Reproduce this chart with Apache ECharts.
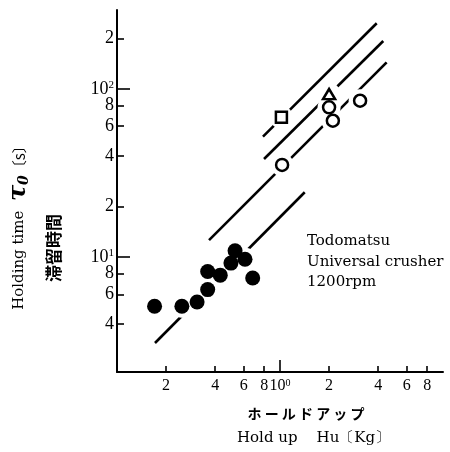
<!DOCTYPE html>
<html>
<head>
<meta charset="utf-8">
<script src="https://cdn.jsdelivr.net/npm/echarts@6/dist/echarts.min.js"></script>
<style>
  html, body { margin: 0; padding: 0; background: #fff; }
  #main { width: 450px; height: 452px; }
</style>
</head>
<body>
<div id="main"></div>
<script>
// 粉砕機データ（両対数）
const filledPts = [[0.17, 5.1], [0.25, 5.1], [0.31, 5.4], [0.36, 6.4], [0.36, 8.2],
  [0.43, 7.8], [0.53, 10.9], [0.50, 9.2], [0.61, 9.7], [0.68, 7.5]];
const circlePts = [[1.03, 35.3], [2.0, 77.8], [2.11, 64.7], [3.1, 85.1]];
const squarePts = [[1.02, 67.8]];
const trianglePts = [[2.0, 93.3]];

// 直線（端点）
const lineA = [[0.786, 52.0], [3.92, 246]];
const lineB = [[0.798, 38.3], [4.30, 193]];
const lineC = [[0.367, 12.6], [4.51, 144]];
const lineD = [[0.171, 3.08], [1.418, 24.3]];

// 目盛
const xMinorTicks = [0.2, 0.4, 0.6, 0.8, 2, 4, 6, 8];
const xLabels = [0.2, 0.4, 0.6, 0.8, 1, 2, 4, 6, 8];
const xMajorTicks = [1];
const yMinorTicks = [4, 6, 8, 20, 40, 60, 80, 200];
const yLabels = [4, 6, 8, 10, 20, 40, 60, 80, 100, 200];
const yMajorTicks = [10, 100];

const serif = '"Liberation Serif", "DejaVu Serif", serif';

function tickText(v) {
  const e = Math.floor(Math.log10(v) + 1e-9);
  const m = Math.round(v / Math.pow(10, e));
  if (m === 1) return '{b|10}{s|' + e + '}';
  return String(m);
}

let chart = echarts.init(document.getElementById('main'));

function lineSeries(d) {
  return {
    type: 'line', data: d, showSymbol: false, symbol: 'none', z: 2, silent: true,
    lineStyle: { color: '#000', width: 2.6 }
  };
}

chart.setOption({
  animation: false,
  grid: { left: 117, top: 10, width: 326, height: 362 },
  xAxis: [
    {
      type: 'log', logBase: 10, min: 0.1, max: 10,
      axisLine: { lineStyle: { color: '#000', width: 2 } },
      axisTick: { inside: true, length: 6, customValues: xMinorTicks, lineStyle: { color: '#000', width: 1.6 } },
      axisLabel: {
        customValues: xLabels, formatter: tickText, margin: 6,
        color: '#000', fontFamily: serif, fontSize: 16,
        rich: {
          b: { fontFamily: serif, fontSize: 16, color: '#000' },
          s: { fontFamily: serif, fontSize: 10, color: '#000', verticalAlign: 'top' }
        }
      },
      splitLine: { show: false }
    },
    {
      type: 'log', logBase: 10, min: 0.1, max: 10, position: 'bottom',
      axisLine: { show: false },
      axisTick: { inside: true, length: 12, customValues: xMajorTicks, lineStyle: { color: '#000', width: 1.6 } },
      axisLabel: { show: false },
      splitLine: { show: false }
    }
  ],
  yAxis: [
    {
      type: 'log', logBase: 10, min: 2.07, max: 295,
      axisLine: { lineStyle: { color: '#000', width: 2 } },
      axisTick: { inside: true, length: 7, customValues: yMinorTicks, lineStyle: { color: '#000', width: 1.6 } },
      axisLabel: {
        customValues: yLabels, formatter: tickText, margin: 3,
        color: '#000', fontFamily: serif, fontSize: 18,
        rich: {
          b: { fontFamily: serif, fontSize: 18, color: '#000' },
          s: { fontFamily: serif, fontSize: 11, color: '#000', verticalAlign: 'top' }
        }
      },
      splitLine: { show: false }
    },
    {
      type: 'log', logBase: 10, min: 2.07, max: 295, position: 'left',
      axisLine: { show: false },
      axisTick: { inside: true, length: 13, customValues: yMajorTicks, lineStyle: { color: '#000', width: 1.6 } },
      axisLabel: { show: false },
      splitLine: { show: false }
    }
  ],
  series: [
    lineSeries(lineA),
    lineSeries(lineB),
    lineSeries(lineC),
    lineSeries(lineD),
    // 白い縁取り（線の切れ目）
    {
      type: 'scatter', data: filledPts, symbol: 'circle', symbolSize: 23, z: 3, silent: true,
      itemStyle: { color: '#fff', opacity: 1 }
    },
    {
      type: 'scatter', data: circlePts.concat(squarePts, trianglePts), symbol: 'circle', symbolSize: 23, z: 3, silent: true,
      itemStyle: { color: '#fff', opacity: 1 }
    },
    {
      type: 'scatter', data: filledPts, symbol: 'circle', symbolSize: 15, z: 4,
      itemStyle: { color: '#000', opacity: 1 }
    },
    {
      type: 'scatter', data: circlePts, symbol: 'circle', symbolSize: 12, z: 4,
      itemStyle: { color: '#fff', borderColor: '#000', borderWidth: 2.5, opacity: 1 }
    },
    {
      type: 'scatter', data: squarePts, symbol: 'rect', symbolSize: 11, z: 4,
      itemStyle: { color: '#fff', borderColor: '#000', borderWidth: 2.5, opacity: 1 }
    },
    {
      type: 'scatter', data: trianglePts, symbol: 'triangle', symbolSize: [12, 10], z: 4,
      itemStyle: { color: '#fff', borderColor: '#000', borderWidth: 2.5, opacity: 1 }
    }
  ],
  graphic: [
    {
      type: 'text', x: 19, y: 224, rotation: Math.PI / 2,
      style: {
        text: 'Holding time  {t|τ}{sub|0}{br|〔s〕}',
        fill: '#000', fontFamily: '"DejaVu Serif", serif', fontSize: 15,
        align: 'center', verticalAlign: 'middle',
        rich: {
          t: { fontFamily: '"DejaVu Serif", serif', fontSize: 24, fontWeight: 'bold', fontStyle: 'italic', fill: '#000' },
          sub: { fontFamily: '"DejaVu Serif", serif', fontSize: 14, fontStyle: 'italic', fontWeight: 'bold', fill: '#000', verticalAlign: 'bottom' },
          br: { fontFamily: '"Noto Sans CJK JP", serif', fontSize: 15, fill: '#000' }
        }
      }
    },
    {
      type: 'text', x: 54, y: 248, rotation: Math.PI / 2,
      style: {
        text: '滞留時間', fill: '#000', fontFamily: '"Noto Sans CJK JP"', fontSize: 17, fontWeight: 'bold',
        align: 'center', verticalAlign: 'middle'
      }
    },
    {
      type: 'text', x: 306, y: 414,
      style: {
        text: 'ホ ー ル ド ア ッ プ', fill: '#000', fontFamily: '"Noto Sans CJK JP"', fontSize: 14, fontWeight: 'bold',
        align: 'center', verticalAlign: 'middle'
      }
    },
    {
      type: 'text', x: 237, y: 438,
      style: {
        text: 'Hold up    Hu〔Kg〕', fill: '#000', fontFamily: '"DejaVu Serif", serif', fontSize: 15,
        align: 'left', verticalAlign: 'middle'
      }
    },
    {
      type: 'text', x: 307, y: 231,
      style: {
        text: 'Todomatsu\nUniversal crusher\n1200rpm', fill: '#000', fontFamily: '"DejaVu Serif", serif', fontSize: 15,
        lineHeight: 20.5, align: 'left', verticalAlign: 'top'
      }
    }
  ]
});
</script>
</body>
</html>
